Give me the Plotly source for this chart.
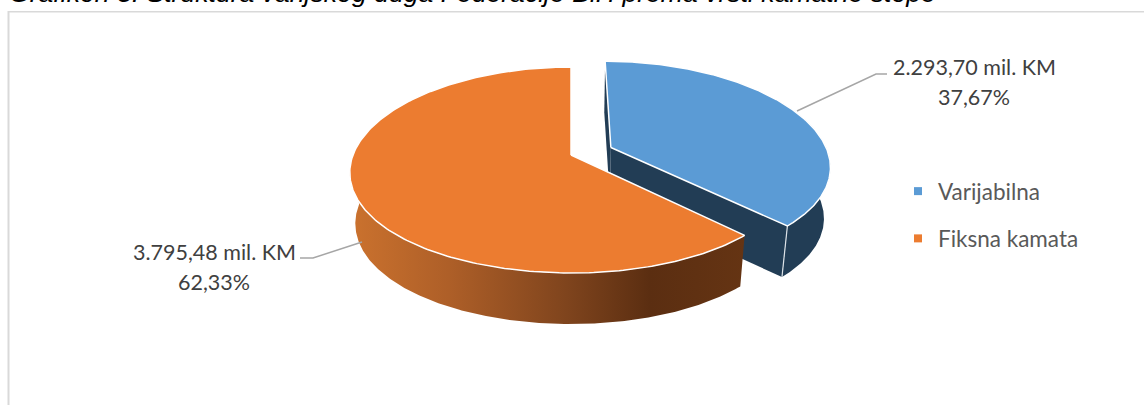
import numpy as np
import plotly.graph_objects as go

# --- data ---
categories = ["Varijabilna", "Fiksna kamata"]
values = [2293.70, 3795.48]
value_labels = ["2.293,70 mil. KM", "3.795,48 mil. KM"]
pct_labels = ["37,67%", "62,33%"]
title_text = "Grafikon 3: Struktura vanjskog duga Federacije BiH prema vrsti kamatne stope"

# --- pie geometry (pixel-like axes) ---
CX, CY, R, TILT, PERSP, PERSP_X, DEPTH, BOTTOM = 571, 155, 218, 100.8, 0.1456, 0.17, 51, 0.975
EXPLODE = 0.2
BLUE, ORANGE, DARK_BLUE = "#5B9BD5", "#EC7C30", "#223D55"


def proj(X, Y, bottom=False):
    X, Y = np.asarray(X, float), np.asarray(Y, float)
    xr, yr = R * X / (1 + PERSP_X * Y), -TILT * Y / (1 + PERSP * Y)
    if bottom:
        xr, yr = xr * BOTTOM, yr + DEPTH
    return CX + xr, CY + yr


def arc(a0, a1, ox=0.0, oy=0.0, bottom=False):
    t = np.radians(np.linspace(a0, a1, 240))
    return proj(ox + np.sin(t), oy + np.cos(t), bottom)


def face(fig, x, y, color=None, gradient=None, line=None):
    fig.add_trace(go.Scatter(
        x=list(x), y=list(y), mode="lines", fill="toself",
        fillcolor=color if gradient is None else None,
        fillgradient=gradient,
        line=dict(color=line or "rgba(0,0,0,0)", width=1.5 if line else 0),
        showlegend=False, hoverinfo="skip"))


total = sum(values)
split = values[0] / total * 360
mid = np.radians(split / 2)
ox, oy = EXPLODE * np.sin(mid), EXPLODE * np.cos(mid)

fig = go.Figure()

# blue slice
ax_t, ay_t = proj(ox, oy)
ax_b, ay_b = proj(ox, oy, True)
tx, ty = arc(0, 0, ox, oy)
bx, by = arc(0, 0, ox, oy, True)
face(fig, [ax_t, tx[0], bx[0], ax_b], [ay_t, ty[0], by[0], ay_b], DARK_BLUE)

sx_t, sy_t = arc(split, 60, ox, oy)
sx_b, sy_b = arc(60, split, ox, oy, True)
face(fig, np.r_[sx_t, sx_b], np.r_[sy_t, sy_b], DARK_BLUE)
face(fig, [ax_t, sx_t[0], sx_b[-1], ax_b], [ay_t, sy_t[0], sy_b[-1], ay_b], DARK_BLUE)
fig.add_trace(go.Scatter(x=[sx_t[0], sx_b[-1]], y=[sy_t[0], sy_b[-1]], mode="lines",
                         line=dict(color="#DDE3E8", width=1.2), showlegend=False, hoverinfo="skip"))
ux, uy = arc(0, split, ox, oy)
face(fig, np.r_[ax_t, ux, ax_t], np.r_[ay_t, uy, ay_t], BLUE, line="white")

# orange slice
ox_t, oy_t = arc(split, 268)
ox_b, oy_b = arc(271, split, bottom=True)
face(fig, np.r_[ox_t, ox_b], np.r_[oy_t, oy_b], gradient=dict(
    type="horizontal",
    colorscale=[[0, "#CB722E"], [0.25, "#AE5F28"], [0.55, "#7F441D"], [0.76, "#5B2E11"], [1, "#653413"]]))
px, py = proj(0, 0)
vx, vy = arc(split, 360)
face(fig, np.r_[px, vx, px], np.r_[py, vy, py], ORANGE, line="white")

# leader lines
for lx, ly in [([797, 876, 887], [111, 74, 74]), ([362, 313, 300], [242, 258, 258])]:
    fig.add_trace(go.Scatter(x=lx, y=ly, mode="lines", line=dict(color="#A6A6A6", width=1.5),
                             showlegend=False, hoverinfo="skip"))

# legend entries
for name, col in zip(categories, [BLUE, ORANGE]):
    fig.add_trace(go.Scatter(x=[None], y=[None], mode="markers", name=name, legendgroup=name,
                             marker=dict(symbol="square", size=8, color=col)))

LABEL_FONT = dict(family="Lato", size=21.5, color="#404040")
ann = []
for (xc, y1, y2), v, p in zip([(974, 67, 97), (214, 252, 282)], value_labels, pct_labels):
    ann.append(dict(x=xc, y=y1, text=v, showarrow=False, font=LABEL_FONT, xanchor="center", yanchor="middle"))
    ann.append(dict(x=xc, y=y2, text=p, showarrow=False, font=LABEL_FONT, xanchor="center", yanchor="middle"))
ann.append(dict(x=7, y=10, text=title_text, showarrow=False, xanchor="left", yanchor="bottom",
                font=dict(family="Liberation Sans", size=26.6, color="black", style="italic")))

fig.update_layout(
    width=1144, height=405, margin=dict(l=0, r=0, t=0, b=0),
    paper_bgcolor="white", plot_bgcolor="white",
    xaxis=dict(range=[0, 1144], visible=False, fixedrange=True),
    yaxis=dict(range=[405, 0], visible=False, fixedrange=True),
    annotations=ann,
    legend=dict(x=898 / 1144, y=1 - 170 / 405, xanchor="left", yanchor="top",
                font=dict(family="Lato", size=22.5, color="#595959"),
                tracegroupgap=15, itemclick=False, itemdoubleclick=False, bgcolor="rgba(0,0,0,0)"),
    shapes=[
        dict(type="line", x0=8.5, x1=8.5, y0=11, y1=405, line=dict(color="#D9D9D9", width=2), layer="below"),
        dict(type="line", x0=8, x1=1144, y0=11.8, y1=11.8, line=dict(color="#D9D9D9", width=1.5), layer="below"),
    ],
)

fig.write_html("out.html", post_script="document.body.style.margin='0';",
               config={"displayModeBar": False})
